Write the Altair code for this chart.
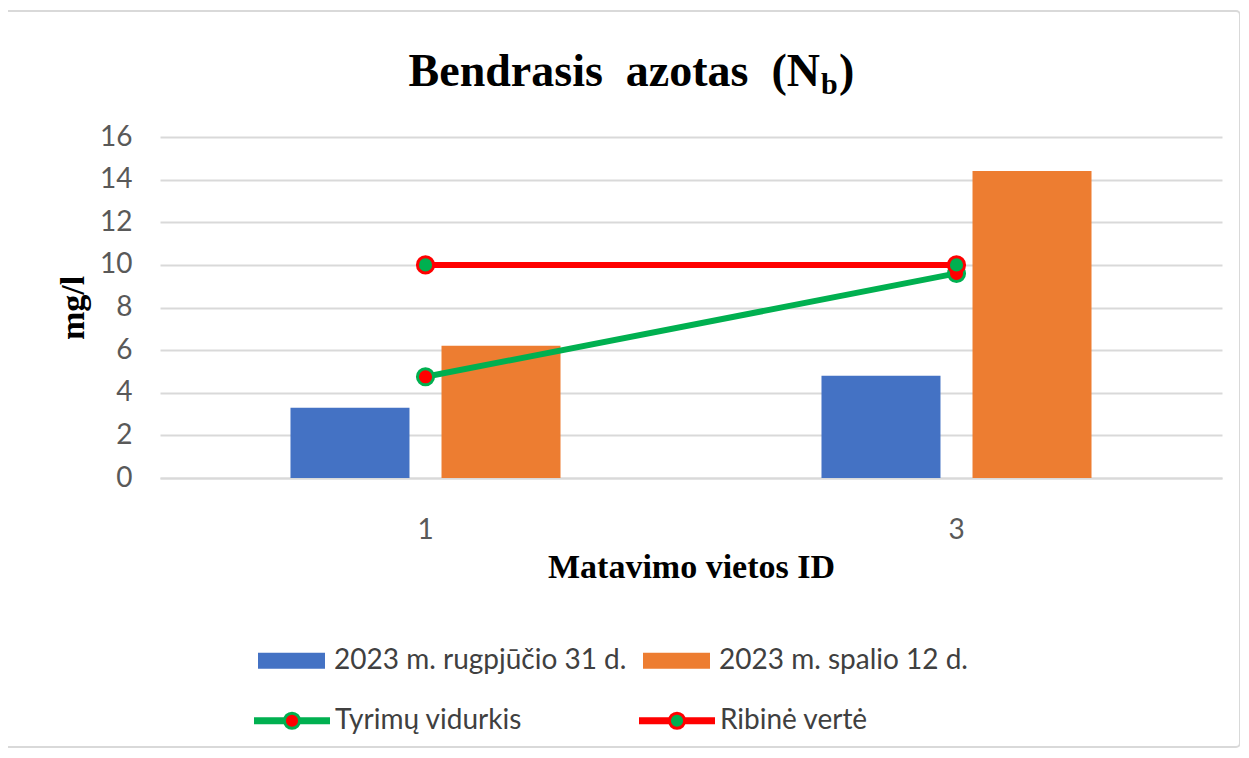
import altair as alt
import pandas as pd

# ---- data ----
ids = ["1", "3"]
bar_series = ["2023 m. rugpjūčio 31 d.", "2023 m. spalio 12 d."]
aug_values = [3.3, 4.8]
oct_values = [6.2, 14.4]
line_series = ["Tyrimų vidurkis", "Ribinė vertė"]
avg_values = [4.75, 9.6]
limit_values = [10, 10]
y_ticks = [0, 2, 4, 6, 8, 10, 12, 14, 16]

title_main = "Bendrasis\u00a0 azotas\u00a0 (N"
title_sub = "b"
title_close = ")"
x_title = "Matavimo vietos ID"
y_title = "mg/l"

bar_colors = ["#4472C4", "#ED7D31"]
line_colors = ["#00B050", "#FF0000"]
marker_fills = ["#FF0000", "#00B050"]

bars_df = pd.DataFrame({
    "ID": ids + ids,
    "series": [bar_series[0]] * len(ids) + [bar_series[1]] * len(ids),
    "value": aug_values + oct_values,
})
lines_df = pd.DataFrame({
    "ID": ids + ids,
    "series": [line_series[0]] * len(ids) + [line_series[1]] * len(ids),
    "value": avg_values + limit_values,
})
one_row = pd.DataFrame({"k": [0]})

CAL = "Lato"
SERIF = "Liberation Serif"
FS = 28

x_enc = alt.X(
    "ID:N",
    sort=ids,
    scale=alt.Scale(paddingInner=0, paddingOuter=0),
    axis=alt.Axis(
        title=x_title, titleFont=SERIF, titleFontSize=34, titleFontWeight="bold",
        titleColor="black", titleX=531, titleY=99, titleAlign="center",
        titleBaseline="alphabetic", labelAngle=0, labelFont=CAL, labelFontSize=FS,
        labelColor="#595959", labelPadding=38, ticks=False, tickSize=0,
        domain=True, domainColor="#D9D9D9", domainWidth=2, grid=False,
    ),
)
y_enc = alt.Y(
    "value:Q",
    scale=alt.Scale(domain=[0, 16], nice=False),
    axis=alt.Axis(
        values=y_ticks, title=y_title, titleFont=SERIF, titleFontSize=34,
        titleFontWeight="bold", titleColor="black", titleX=-87, titleY=170.5,
        titleAngle=-90, titleAlign="center", titleBaseline="middle",
        labelFont=CAL, labelFontSize=FS, labelColor="#595959", labelPadding=28,
        ticks=False, tickSize=0, domain=False, grid=True, gridColor="#D9D9D9",
        gridWidth=2,
    ),
)

bar_legend = alt.Legend(
    title=None, orient="none", legendX=98, legendY=490, columns=2,
    columnPadding=16, padding=0, symbolType="M-1,-0.239H1V0.239H-1Z",
    symbolSize=4489, symbolStrokeWidth=0, symbolOpacity=1,
    labelFont=CAL, labelFontSize=FS, labelColor="#404040", labelOffset=9,
    labelLimit=0,
)
line_path = ("M-1,-0.05H-0.2M-1,0H-0.2M-1,0.05H-0.2"
             "M0.2,-0.05H1M0.2,0H1M0.2,0.05H1"
             "M-0.2,0A0.2,0.2,0,1,1,0.2,0A0.2,0.2,0,1,1,-0.2,0Z")
line_legend = alt.Legend(
    title=None, orient="none", legendX=92.5, legendY=544, columns=2,
    columnPadding=110, padding=0, symbolType=line_path, symbolSize=5776,
    symbolStrokeWidth=3, symbolOpacity=1, labelFont=CAL, labelFontSize=FS,
    labelColor="#404040", labelOffset=3.5, labelLimit=0,
)

border = alt.Chart(one_row).mark_rect(
    fillOpacity=0, stroke="#D9D9D9", strokeWidth=2, cornerRadius=4
).encode(x=alt.value(-155), x2=alt.value(1080), y=alt.value(-126), y2=alt.value(610))

bars = alt.Chart(bars_df).mark_bar().encode(
    x=x_enc,
    xOffset=alt.XOffset(
        "series:N", sort=bar_series,
        scale=alt.Scale(domain=bar_series, paddingInner=0.212, paddingOuter=0.864),
    ),
    y=y_enc,
    color=alt.Color("series:N", sort=bar_series,
                    scale=alt.Scale(domain=bar_series, range=bar_colors),
                    legend=bar_legend),
)

line_avg = alt.Chart(lines_df).transform_filter(
    alt.datum.series == line_series[0]
).mark_line(color=line_colors[0], strokeWidth=6).encode(x=x_enc, y=y_enc)

line_lim = alt.Chart(lines_df).transform_filter(
    alt.datum.series == line_series[1]
).mark_line(color=line_colors[1], strokeWidth=6).encode(x=x_enc, y=y_enc)

points = alt.Chart(lines_df).mark_circle(size=260, strokeWidth=3, opacity=1).encode(
    x=x_enc,
    y=y_enc,
    stroke=alt.Stroke("series:N", sort=line_series,
                      scale=alt.Scale(domain=line_series, range=line_colors),
                      legend=line_legend),
    fill=alt.Fill("series:N", sort=line_series,
                  scale=alt.Scale(domain=line_series, range=marker_fills),
                  legend=line_legend),
)

t_main = alt.Chart(one_row).mark_text(
    text=title_main, font=SERIF, fontSize=46, fontWeight="bold", color="black",
    align="right", baseline="alphabetic",
).encode(x=alt.value(660), y=alt.value(-51))
t_sub = alt.Chart(one_row).mark_text(
    text=title_sub, font=SERIF, fontSize=30, fontWeight="bold", color="black",
    align="left", baseline="alphabetic",
).encode(x=alt.value(661), y=alt.value(-43))
t_close = alt.Chart(one_row).mark_text(
    text=title_close, font=SERIF, fontSize=46, fontWeight="bold", color="black",
    align="left", baseline="alphabetic",
).encode(x=alt.value(679), y=alt.value(-51))

chart = alt.layer(
    border, bars, line_avg, line_lim, points, t_main, t_sub, t_close
).resolve_scale(
    color="independent", fill="independent", stroke="independent"
).properties(
    width=1062, height=341, autosize="none",
    padding={"left": 152, "top": 129, "right": 18, "bottom": 270},
    background="white",
).configure_view(stroke=None)

chart.save("out.html", embed_options={"renderer": "svg", "actions": False})
